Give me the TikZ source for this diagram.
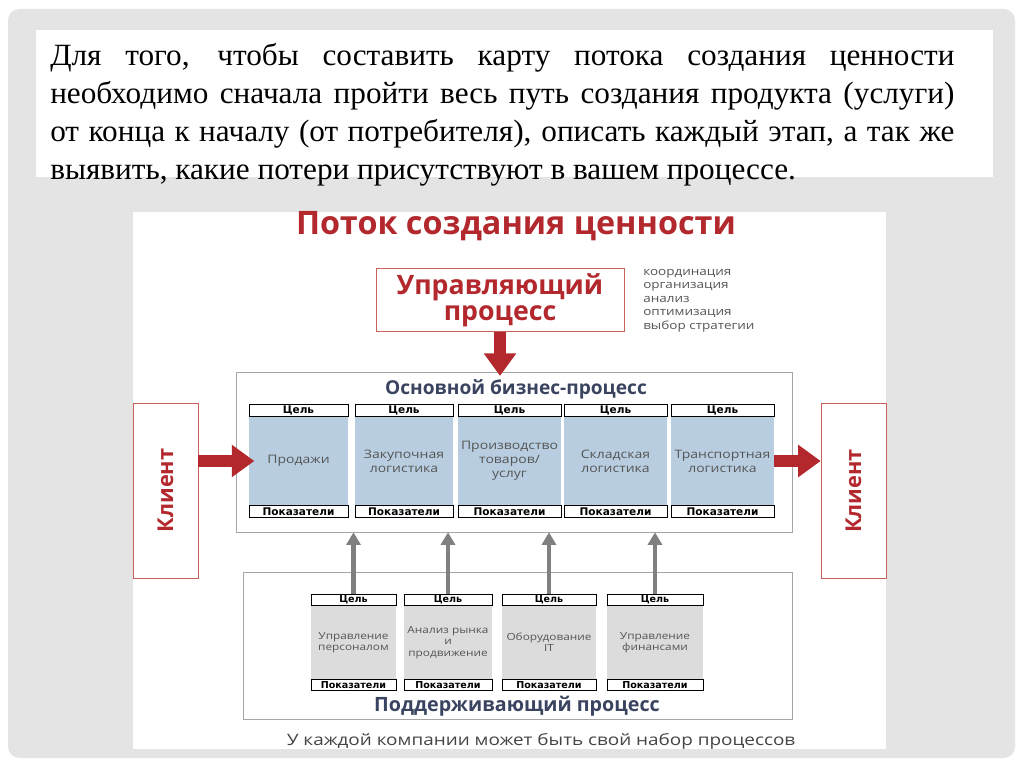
\documentclass[tikz,border=0pt]{standalone}
\usepackage{fontspec}
\setmainfont{Liberation Serif}
\newfontfamily\slidefont[FakeStretch=1.01]{Liberation Serif}
\newfontfamily\headfont{Open Sans}
\newfontfamily\bodyfont[FakeStretch=1.2]{Open Sans}
\newfontfamily\tabfont{DejaVu Sans}
\usetikzlibrary{positioning,arrows.meta}
\definecolor{panel}{HTML}{E4E4E4}
\definecolor{flow}{HTML}{B3282D}
\definecolor{flowline}{HTML}{C9605C}
\definecolor{navy}{HTML}{3A4460}
\definecolor{core}{HTML}{B8CEE0}
\definecolor{aux}{HTML}{DCDCDC}
\definecolor{rim}{HTML}{A6A6A6}
\definecolor{hint}{HTML}{555555}
\definecolor{lift}{HTML}{808080}

\begin{document}
\begin{tikzpicture}[x=0.025cm, y=-0.025cm,
    goal/.style={draw=black, fill=white, line width=0.5pt, minimum height=0.3cm, inner sep=0pt, font=\tabfont\bfseries\fontsize{7.5}{8}\selectfont},
    corebox/.style={fill=core, minimum height=2.2cm, inner sep=1pt, align=center, text=hint, font=\bodyfont\fontsize{8.3}{10}\selectfont},
    auxbox/.style={fill=aux, minimum height=1.825cm, inner sep=1pt, align=center, text=hint, font=\bodyfont\fontsize{7}{8}\selectfont},
    smallgoal/.style={goal, minimum height=0.275cm, font=\tabfont\bfseries\fontsize{6.8}{7}\selectfont},
    client/.style={draw=flowline, fill=white, minimum width=1.625cm, minimum height=4.375cm, inner sep=0pt},
    redarrow/.style={flow, line width=9pt, -{Triangle[length=16pt,width=22pt]}},
    grayarrow/.style={lift, line width=3pt, -{Triangle[length=9pt,width=10pt]}}]

  \useasboundingbox (0,0) rectangle (1024,767);

  % slide background
  \fill[white] (0,0) rectangle (1024,767);
  \fill[panel, rounded corners=8pt] (8,9) rectangle (1015,758);
  \fill[white] (36,30) rectangle (993,177);
  \fill[white] (133,212) rectangle (886,749);

  % slide text
  \node[anchor=north west, inner sep=0pt, text width=22.6cm, align=justify,
        font=\slidefont\fontsize{22}{27}\selectfont] (intro) at (50,43)
    {Для того, чтобы составить карту потока создания ценности\linebreak
     необходимо сначала пройти весь путь создания продукта (услуги)\linebreak
     от конца к началу (от потребителя), описать каждый этап, а так же\linebreak
     выявить, какие потери присутствуют в вашем процессе.};

  % title
  \node[flow, font=\headfont\bfseries\fontsize{23}{26}\selectfont] (title) at (516,226) {Поток создания ценности};

  % control process
  \node[draw=flowline, minimum width=6.2cm, minimum height=1.4cm, align=center, text=flow,
        font=\headfont\bfseries\fontsize{19}{18.5}\selectfont] (upr) at (500,300) {Управляющий\\процесс};
  \node[anchor=north west, align=left, inner sep=0pt, text=hint,
        font=\bodyfont\fontsize{8}{9.6}\selectfont] (tasks) at (643,269)
    {координация\\организация\\анализ\\оптимизация\\выбор стратегии};

  % main business process
  \node[draw=rim, minimum width=13.9cm, minimum height=4cm] (main) at (514,452) {};
  \node[navy, font=\headfont\bfseries\fontsize{13.6}{15}\selectfont] (maintitle) at (516,389) {Основной бизнес-процесс};

  \node[corebox, minimum width=2.475cm] (prod) at (298.5,461) {Продажи};
  \node[goal, minimum width=2.475cm, above=0pt of prod] (prodg) {Цель};
  \node[goal, minimum width=2.475cm, below=0pt of prod] (prodk) {Показатели};

  \node[corebox, minimum width=2.45cm] (zak) at (404,461) {Закупочная\\логистика};
  \node[goal, minimum width=2.45cm, above=0pt of zak] (zakg) {Цель};
  \node[goal, minimum width=2.45cm, below=0pt of zak] (zakk) {Показатели};

  \node[corebox, minimum width=2.575cm] (proiz) at (509.5,461) {Производство\\товаров/\\услуг};
  \node[goal, minimum width=2.575cm, above=0pt of proiz] (proizg) {Цель};
  \node[goal, minimum width=2.575cm, below=0pt of proiz] (proizk) {Показатели};

  \node[corebox, minimum width=2.575cm] (skl) at (615.5,461) {Складская\\логистика};
  \node[goal, minimum width=2.575cm, above=0pt of skl] (sklg) {Цель};
  \node[goal, minimum width=2.575cm, below=0pt of skl] (sklk) {Показатели};

  \node[corebox, minimum width=2.575cm] (tr) at (722.5,461) {Транспортная\\логистика};
  \node[goal, minimum width=2.575cm, above=0pt of tr] (trg) {Цель};
  \node[goal, minimum width=2.575cm, below=0pt of tr] (trk) {Показатели};

  % clients
  \node[client] (kl1) at (165.5,490.5) {};
  \node[flow, rotate=90, font=\headfont\bfseries\fontsize{15.5}{18}\selectfont] at (kl1) {Клиент};
  \node[client] (kl2) at (853.5,491) {};
  \node[flow, rotate=90, font=\headfont\bfseries\fontsize{15.5}{18}\selectfont] at (kl2) {Клиент};

  % supporting process
  \node[draw=rim, minimum width=13.725cm, minimum height=3.675cm] (sup) at (517.5,645.5) {};
  \node[navy, font=\headfont\bfseries\fontsize{14}{16}\selectfont] (suptitle) at (517,706) {Поддерживающий процесс};

  \node[auxbox, minimum width=2.125cm] (pers) at (353.5,642.5) {Управление\\персоналом};
  \node[smallgoal, minimum width=2.125cm, above=0pt of pers] (persg) {Цель};
  \node[smallgoal, minimum width=2.125cm, below=0pt of pers] (persk) {Показатели};

  \node[auxbox, minimum width=2.2cm] (mark) at (448,642.5) {Анализ рынка\\и\\продвижение};
  \node[smallgoal, minimum width=2.2cm, above=0pt of mark] (markg) {Цель};
  \node[smallgoal, minimum width=2.2cm, below=0pt of mark] (markk) {Показатели};

  \node[auxbox, minimum width=2.35cm] (it) at (549,642.5) {Оборудование\\IT};
  \node[smallgoal, minimum width=2.35cm, above=0pt of it] (itg) {Цель};
  \node[smallgoal, minimum width=2.35cm, below=0pt of it] (itk) {Показатели};

  \node[auxbox, minimum width=2.4cm] (fin) at (655,642.5) {Управление\\финансами};
  \node[smallgoal, minimum width=2.4cm, above=0pt of fin] (fing) {Цель};
  \node[smallgoal, minimum width=2.4cm, below=0pt of fin] (fink) {Показатели};

  \node[text=hint!80!black, font=\bodyfont\fontsize{11.2}{13}\selectfont] (note) at (541,741)
    {У каждой компании может быть свой набор процессов};

  % arrows
  \draw[redarrow, shorten >=-3pt] (upr.south) -- (upr.south |- main.north);
  \draw[redarrow, shorten >=-4pt] (kl1.east |- prod.center) -- (prod.west);
  \draw[redarrow] (tr.east) -- (kl2.west |- tr.center);
  \draw[grayarrow] (persg.north) -- (persg.north |- main.south);
  \draw[grayarrow] (markg.north) -- (markg.north |- main.south);
  \draw[grayarrow] (itg.north) -- (itg.north |- main.south);
  \draw[grayarrow] (fing.north) -- (fing.north |- main.south);
\end{tikzpicture}
\end{document}
